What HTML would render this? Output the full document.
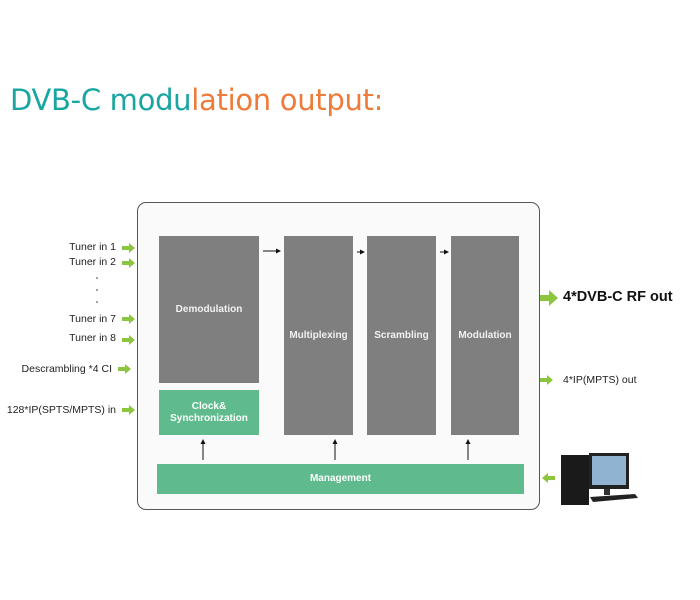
<!DOCTYPE html>
<html><head><style>
body{margin:0;width:700px;height:600px;background:#fff;position:relative;font-family:"Liberation Sans",Arial,sans-serif;overflow:hidden}
.a{position:absolute}
.g{position:absolute;background:#7f7f7f;color:#f2f2f2;font-weight:bold;font-size:10px;display:flex;align-items:center;justify-content:center;text-align:center}
.m{position:absolute;background:#5fbb8d;color:#fff;font-weight:bold;font-size:10px;display:flex;align-items:center;justify-content:center;text-align:center;line-height:12px}
.lbl{position:absolute;font-size:10.5px;color:#222;text-align:right;white-space:nowrap}
</style></head><body>
<div class="a" style="left:10px;top:83px;font-family:'DejaVu Sans',sans-serif;font-size:29px;letter-spacing:-0.3px;white-space:nowrap"><span style="color:#19a6a1">DVB-C modu</span><span style="color:#ef7b3a">lation output:</span></div>
<div class="a" style="left:137px;top:202px;width:401px;height:306px;border:1px solid #555;border-radius:9px;background:#fafafa"></div>
<div class="g" style="left:159px;top:236px;width:100px;height:147px">Demodulation</div>
<div class="m" style="left:159px;top:390px;width:100px;height:45px">Clock&amp;<br>Synchronization</div>
<div class="g" style="left:284px;top:236px;width:69px;height:199px">Multiplexing</div>
<div class="g" style="left:367px;top:236px;width:69px;height:199px">Scrambling</div>
<div class="g" style="left:451px;top:236px;width:68px;height:199px">Modulation</div>
<div class="m" style="left:157px;top:464px;width:367px;height:30px">Management</div>
<svg class="a" style="left:0;top:0" width="700" height="600">
<defs><marker id="k" markerWidth="5" markerHeight="5" refX="4" refY="2.5" orient="auto"><path d="M0,0L5,2.5L0,5z" fill="#111"/></marker></defs>
<g stroke="#111" stroke-width="1" marker-end="url(#k)">
<line x1="263" y1="251" x2="280" y2="251"/>
<line x1="357" y1="252" x2="364" y2="252"/>
<line x1="440" y1="252" x2="448" y2="252"/>
<line x1="203" y1="460" x2="203" y2="440"/>
<line x1="335" y1="460" x2="335" y2="440"/>
<line x1="468" y1="460" x2="468" y2="440"/>
</g>
<g fill="#8cc63f">
<path d="M122,246h7v-3l6,5l-6,5v-3h-7z"/>
<path d="M122,261h7v-3l6,5l-6,5v-3h-7z"/>
<path d="M122,317h7v-3l6,5l-6,5v-3h-7z"/>
<path d="M122,338h7v-3l6,5l-6,5v-3h-7z"/>
<path d="M118,367h7v-3l6,5l-6,5v-3h-7z"/>
<path d="M122,408h7v-3l6,5l-6,5v-3h-7z"/>
<path d="M540,295h9v-5l9,8l-9,8v-5h-9z"/>
<path d="M540,378h7v-3l6,5l-6,5v-3h-7z"/>
<path d="M555,476h-7v-3l-6,5l6,5v-3h7z"/>
</g>
<g fill="#333"><circle cx="97" cy="278" r="0.8"/><circle cx="97" cy="290" r="0.8"/><circle cx="97" cy="302" r="0.8"/></g>
<rect x="561" y="455" width="28" height="50" fill="#1a1a1a"/>
<rect x="589" y="453" width="40" height="36" fill="#222"/>
<rect x="592" y="456" width="34" height="29" fill="#8fb3d0"/>
<rect x="604" y="489" width="6" height="6" fill="#333"/>
<path d="M590,497l45,-3l3,4l-45,4z" fill="#222"/>
</svg>
<div class="lbl" style="right:584px;top:241px">Tuner in 1</div>
<div class="lbl" style="right:584px;top:256px">Tuner in 2</div>
<div class="lbl" style="right:584px;top:313px">Tuner in 7</div>
<div class="lbl" style="right:584px;top:332px">Tuner in 8</div>
<div class="lbl" style="right:588px;top:363px">Descrambling *4 CI</div>
<div class="lbl" style="right:584px;top:404px">128*IP(SPTS/MPTS) in</div>
<div class="a" style="left:563px;top:289px;font-size:14.5px;font-weight:bold;color:#111;white-space:nowrap">4*DVB-C RF out</div>
<div class="a" style="left:563px;top:374px;font-size:10.5px;color:#222;white-space:nowrap">4*IP(MPTS) out</div>
</body></html>
